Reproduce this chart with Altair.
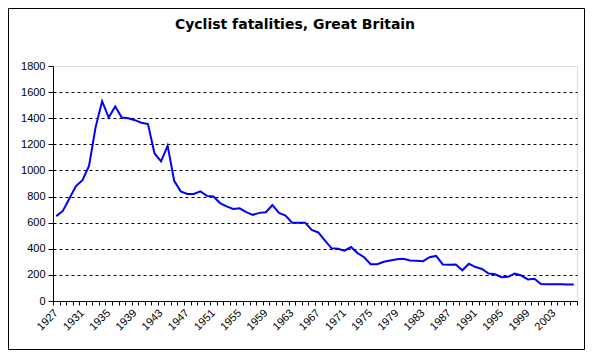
import altair as alt
import pandas as pd

years = list(range(1927, 2007))
fatalities = [
    650, 690, 785, 880, 925, 1035, 1330, 1530, 1405, 1490,
    1405, 1400, 1385, 1365, 1355, 1130, 1070, 1190, 920, 840,
    820, 820, 840, 805, 800, 750, 725, 705, 710, 680,
    660, 675, 680, 735, 675, 655, 600, 600, 600, 545,
    525, 465, 405, 400, 385, 413, 367, 335, 282, 282,
    300, 310, 320, 323, 310, 308, 305, 335, 345, 280,
    277, 280, 235, 285, 260, 245, 210, 205, 182, 185,
    210, 195, 165, 170, 130, 128, 128, 128, 126, 126,
]
y_ticks = [0, 200, 400, 600, 800, 1000, 1200, 1400, 1600, 1800]
x_bounds = [1926.5 + k for k in range(81)]
title_text = "Cyclist fatalities, Great Britain"

df = pd.DataFrame({"year": years, "fatalities": fatalities})

FONT = "Liberation Sans"

x_enc = alt.X(
    "year:Q",
    scale=alt.Scale(domain=[1926.5, 2006.5], nice=False, zero=False),
    axis=alt.Axis(
        title=None,
        values=x_bounds,
        labelExpr="((datum.value - 1926.5) % 4 == 0 && datum.value < 2006) ? '' + (datum.value + 0.5) : ''",
        labelAngle=315,
        labelAlign="right",
        labelBaseline="middle",
        labelOffset=3,
        labelPadding=6,
        labelOverlap=False,
        labelFlush=False,
        labelBound=False,
        labelFont=FONT,
        labelFontSize=11,
        labelColor="black",
        tickSize=4,
        tickColor="black",
        domainColor="black",
        grid=False,
    ),
)

y_enc = alt.Y(
    "fatalities:Q",
    scale=alt.Scale(domain=[0, 1800], nice=False),
    axis=alt.Axis(
        title=None,
        values=y_ticks,
        format="d",
        labelFont=FONT,
        labelFontSize=11,
        labelColor="black",
        labelPadding=3,
        tickSize=5,
        tickColor="black",
        domainColor="black",
        grid=True,
        gridColor={"condition": {"test": "datum.value >= 1800 || datum.value <= 0", "value": "transparent"}, "value": "black"},
        gridDash=[3, 3],
        gridWidth=1,
    ),
)

line = alt.Chart(df).mark_line(color="#0000FF", strokeWidth=2).encode(x=x_enc, y=y_enc)

one = pd.DataFrame({"t": [title_text]})

border = alt.Chart(one).mark_rect(
    fill=None, stroke="black", strokeWidth=1
).encode(
    x=alt.value(-44.5), x2=alt.value(531.5), y=alt.value(-57.5), y2=alt.value(283.5)
)

title = alt.Chart(one).mark_text(
    font="DejaVu Sans", fontSize=14, fontWeight="bold", color="black",
    align="center", baseline="middle",
).encode(text="t:N", x=alt.value(242), y=alt.value(-41))

chart = alt.layer(line, border, title).properties(
    width=524,
    height=235,
    padding={"left": 45, "top": 58, "right": 8, "bottom": 49},
    autosize=alt.AutoSizeParams(type="none"),
).configure_view(stroke="#808080", strokeWidth=1).configure(background="white")

chart.save("out.html", embed_options={"renderer": "svg", "actions": False})
